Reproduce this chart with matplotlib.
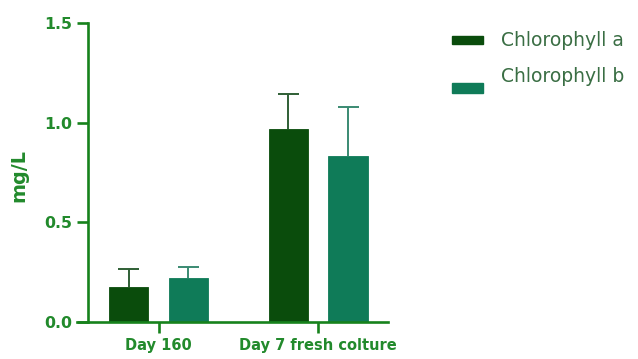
import matplotlib
matplotlib.use("Agg")
import matplotlib.pyplot as plt
from matplotlib.patches import Rectangle
import numpy as np

# Data
groups = ["Day 160", "Day 7 fresh colture"]
series = ["Chlorophyll a", "Chlorophyll b"]
chl_a = [0.173, 0.967]
chl_a_sd = [0.090, 0.178]
chl_b = [0.218, 0.835]
chl_b_sd = [0.055, 0.243]
yticks = [0.0, 0.5, 1.0, 1.5]

bar_colors = ["#0a4c0c", "#0f7b58"]
err_colors = ["#2f5f35", "#3a8a72"]
axis_color = "#17821c"
text_color = "#228a2c"
legend_text_color = "#3a6e44"

W, H = 638, 359
fig = plt.figure(figsize=(W / 100, H / 100), dpi=100)
ax = fig.add_axes([76.7 / W, (H - 321.7) / H, (388 - 76.7) / W, (321.7 - 23.3) / H])

x = np.arange(len(groups))
width = 0.246
offset = 0.187
cap = 0.066
values = [chl_a, chl_b]
sds = [chl_a_sd, chl_b_sd]
for i, (vals, sd) in enumerate(zip(values, sds)):
    pos = x + (i * 2 - 1) * offset
    vals = np.asarray(vals)
    tops = vals + np.asarray(sd)
    ax.bar(pos, vals, width, color=bar_colors[i], edgecolor=bar_colors[i],
           linewidth=0.6, zorder=2)
    # upper-only error whiskers with a cap at the top
    ax.vlines(pos, vals, tops, colors=err_colors[i], linewidth=1.4, zorder=1)
    ax.hlines(tops, pos - cap, pos + cap, colors=err_colors[i], linewidth=1.4,
              zorder=1)

ax.set_xlim(-0.513, 1.437)
ax.set_ylim(0, 1.5)

for side in ["top", "right"]:
    ax.spines[side].set_visible(False)
ax.spines["left"].set_position(("data", -0.44))
for side in ["left", "bottom"]:
    ax.spines[side].set_color(axis_color)
    ax.spines[side].set_linewidth(1.9)

ax.set_yticks(yticks)
ax.set_yticklabels([f"{t:.1f}" for t in yticks])
ax.set_xticks(x)
ax.set_xticklabels(groups)
ax.tick_params(axis="both", colors=axis_color, width=1.9, length=8)
for lab in ax.get_yticklabels():
    lab.set_fontsize(11.3)
    lab.set_fontweight("bold")
    lab.set_color(text_color)
for lab in ax.get_xticklabels():
    lab.set_fontsize(10.5)
    lab.set_fontweight("bold")
    lab.set_color(text_color)
ax.tick_params(axis="y", pad=3.5)
ax.tick_params(axis="x", pad=4)

fig.text(19 / W, 1 - 176 / H, "mg/L", rotation=90, ha="center", va="center",
         fontsize=13.8, fontweight="bold", color=text_color)

# Legend
patch_boxes = [(452, 36, 31, 8), (452, 82.5, 31, 10.5)]
text_y = [40, 77]
for name, col, (px, py, pw, ph), ty in zip(series, bar_colors, patch_boxes, text_y):
    fig.add_artist(Rectangle((px / W, 1 - (py + ph) / H), pw / W, ph / H,
                             transform=fig.transFigure, color=col))
    fig.text(501 / W, 1 - ty / H, name, ha="left", va="center",
             fontsize=13.5, color=legend_text_color)

fig.savefig("out.png", dpi=100)
